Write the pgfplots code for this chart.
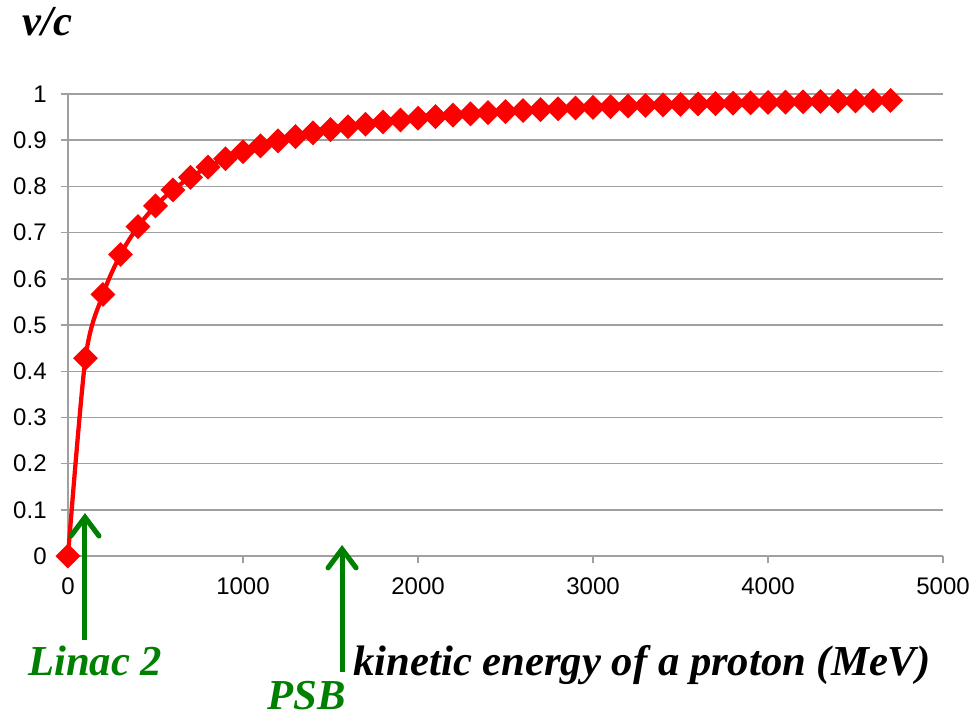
\documentclass[border=0pt]{standalone}
\usepackage{pgfplots}
\pgfplotsset{compat=1.18}
\usetikzlibrary{arrows.meta}
\usepackage{fontspec}
\setmainfont{Liberation Serif}
\newfontfamily\arial{Liberation Sans}
\definecolor{arrowgreen}{RGB}{0,128,0}
\definecolor{gridgray}{RGB}{160,160,160}

\pgfplotstableread{
T beta
0 0
100 0.4282
200 0.5662
300 0.6526
400 0.7131
500 0.7579
600 0.7924
700 0.8197
800 0.8418
900 0.8599
1000 0.8750
1100 0.8878
1200 0.8986
1300 0.9079
1400 0.9160
1500 0.9230
1600 0.9292
1700 0.9346
1800 0.9395
1900 0.9438
2000 0.9477
2100 0.9511
2200 0.9543
2300 0.9571
2400 0.9597
2500 0.9620
2600 0.9642
2700 0.9662
2800 0.9680
2900 0.9697
3000 0.9712
3100 0.9726
3200 0.9740
3300 0.9752
3400 0.9764
3500 0.9775
3600 0.9785
3700 0.9793
3800 0.9802
3900 0.9810
4000 0.9818
4100 0.9825
4200 0.9832
4300 0.9838
4400 0.9844
4500 0.9850
4600 0.9855
4700 0.9861
}\protondata

\begin{document}
\begin{tikzpicture}
\begin{axis}[
	width=656.25pt,
	height=346.5pt,
	scale only axis,
	xmin=0, xmax=5000,
	ymin=0, ymax=1,
	axis lines*=left,
	axis line style={gridgray, line width=1.1pt},
	xtick={0,1000,2000,3000,4000,5000},
	ytick={0,0.1,0.2,0.3,0.4,0.5,0.6,0.7,0.8,0.9,1},
	ymajorgrids=true,
	major grid style={gridgray, line width=1.1pt},
	tick align=outside,
	major tick length=5.5pt,
	tick style={gridgray, line width=1.1pt},
	ticklabel style={font=\arial\fontsize{18}{20}\selectfont, black},
	xticklabel style={yshift=-7pt},
	yticklabel style={xshift=-7pt},
	/pgf/number format/assume math mode=true,
	/pgf/number format/1000 sep={},
	clip=false,
]

\addplot[red, line width=3.2pt, smooth, mark=square*, mark size=5pt,
	mark options={solid, rotate=45, draw=none, fill=red}]
	table[x=T, y=beta] {\protondata};

% annotation arrows
\draw[arrowgreen, line width=3.8pt, -{Straight Barb[length=14pt, width=21pt, line cap=round]}]
	(axis cs:97,-0.182) -- (axis cs:97,0.093);
\draw[arrowgreen, line width=3.8pt, -{Straight Barb[length=14pt, width=21pt, line cap=round]}]
	(axis cs:1566,-0.251) -- (axis cs:1566,0.024);

\node[anchor=base west, inner sep=0pt, font=\fontsize{32}{35}\selectfont\bfseries\itshape]
	at (rel axis cs:-0.0526,1.1277) {v/c};
\node[anchor=base west, inner sep=0pt, font=\fontsize{32}{35}\selectfont\bfseries\itshape]
	at (rel axis cs:0.326,-0.2576) {kinetic energy of a proton (MeV)};
\node[anchor=base west, inner sep=0pt, text=arrowgreen, font=\fontsize{32}{35}\selectfont\bfseries\itshape]
	at (rel axis cs:-0.0457,-0.2576) {Linac 2};
\node[anchor=base west, inner sep=0pt, text=arrowgreen, font=\fontsize{32}{35}\selectfont\bfseries\itshape]
	at (rel axis cs:0.2274,-0.332) {PSB};

\coordinate (bl) at (rel axis cs:-0.0777,-0.3506);
\coordinate (tr) at (rel axis cs:1.0331,1.2035);
\end{axis}
\pgfresetboundingbox
\useasboundingbox (bl) rectangle (tr);
\end{tikzpicture}
\end{document}
